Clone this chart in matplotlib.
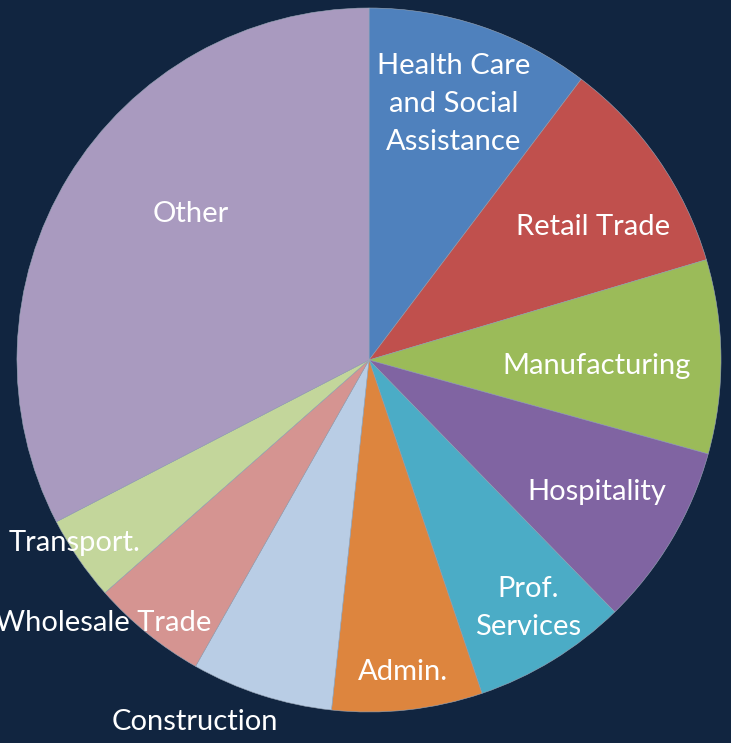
import matplotlib
matplotlib.use("Agg")
import matplotlib.pyplot as plt

# Data (shares in percent, clockwise from 12 o'clock)
categories = ["Health Care and Social Assistance", "Retail Trade", "Manufacturing",
              "Hospitality", "Prof. Services", "Admin.", "Construction",
              "Wholesale Trade", "Transport.", "Other"]
shares = [10.3, 10.1, 8.9, 8.4, 7.1, 6.9, 6.5, 5.3, 3.9, 32.6]
label_texts = ["Health Care\nand Social\nAssistance", "Retail Trade", "Manufacturing",
               "Hospitality", "Prof.\nServices", "Admin.", "Construction",
               "Wholesale Trade", "Transport.", "Other"]

colors = ["#4F81BD", "#C0504D", "#9BBB59", "#8064A2", "#4BACC6",
          "#DD853E", "#B9CDE5", "#D59491", "#C3D69B", "#A99ABF"]
bg = "#112540"

W, H = 731, 743
fig = plt.figure(figsize=(W / 100, H / 100), dpi=100, facecolor=bg)
ax = fig.add_axes([0, 0, 1, 1])
ax.set_facecolor(bg)

cx, cy, R = 369, H - 360, 352
ax.pie(shares, colors=colors, startangle=90, counterclock=False,
       center=(cx, cy), radius=R, frame=True,
       wedgeprops=dict(linewidth=0.4, edgecolor="#9aa7b8"))
ax.set_xlim(0, W)
ax.set_ylim(0, H)
ax.set_aspect("equal")
ax.axis("off")

# label positions in pixels (x, y from top)
label_pos = [(454, 104), (593, 227), (597, 366), (597, 492), (528, 608),
             (403, 672), (195, 722), (103, 623), (75, 543), (191, 214)]

for txt, (px, py) in zip(label_texts, label_pos):
    ax.text(px, H - py, txt, ha="center", va="center", color="white",
            fontsize=21, family="Lato", linespacing=1.55)

fig.savefig("out.png", dpi=100, facecolor=bg)
